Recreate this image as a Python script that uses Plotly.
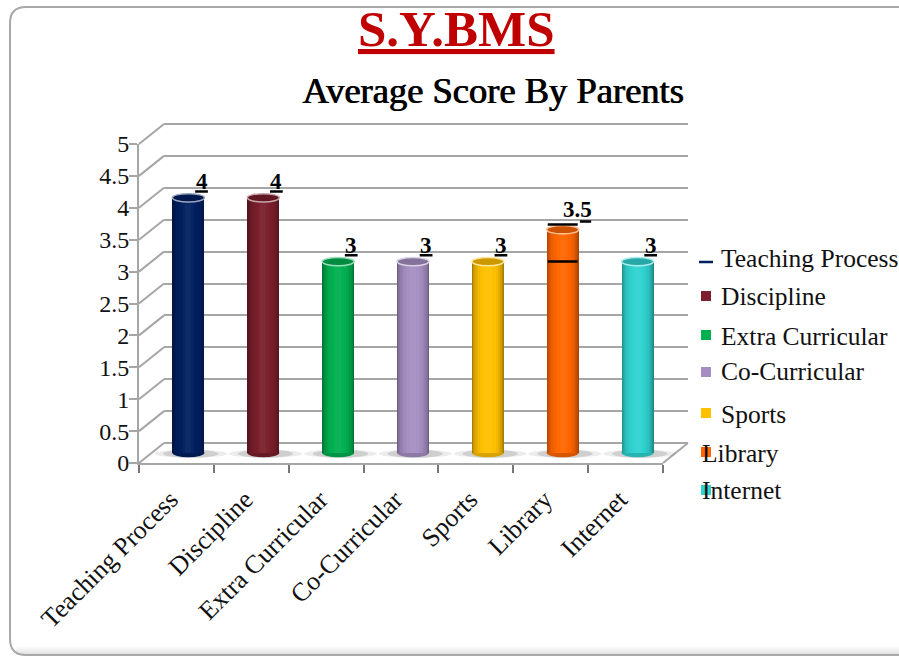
import plotly.graph_objects as go

W, H = 899, 657
FONT = "Liberation Serif"
categories = ["Teaching Process", "Discipline", "Extra Curricular", "Co-Curricular", "Sports", "Library", "Internet"]
scores = [4, 4, 3, 3, 3, 3.5, 3]
score_labels = ["4", "4", "3", "3", "3", "3.5", "3"]
colors = ["#002060", "#7A1F2B", "#00B050", "#A58FC2", "#FFC000", "#FF6600", "#2FD3D0"]
y_ticks = [0, 0.5, 1, 1.5, 2, 2.5, 3, 3.5, 4, 4.5, 5]
legend_y_px = [258, 296, 336, 371, 414, 453, 490]
legend_text_x_px = [719, 719, 719, 719, 719, 700, 700]
legend_key_y_px = [262, 296, 335, 372, 413, 452, 490]


def px_x(v):
    return v / W


def px_y(v):
    return 1 - v / H


def shade(hex_color, f):
    r, g, b = [int(hex_color[i:i + 2], 16) for i in (1, 3, 5)]
    if f <= 1:
        r, g, b = r * f, g * f, b * f
    else:
        t = f - 1
        r, g, b = r + (255 - r) * t, g + (255 - g) * t, b + (255 - b) * t
    return "#%02x%02x%02x" % (int(r), int(g), int(b))


GRID = "#a6a6a6"
fig = go.Figure()

# Back wall subplot (drawn first, carries the gridlines)
fig.add_trace(go.Scatter(x=[0, 1], y=[0, 5], xaxis="x", yaxis="y", mode="none",
                         showlegend=False, hoverinfo="skip"))

# Bars: nested layers give the cylinder shading
layers = [(0.428, 0.66), (0.41, 0.72), (0.39, 0.78), (0.365, 0.83), (0.335, 0.88),
          (0.30, 0.92), (0.26, 0.96), (0.21, 0.99), (0.15, 1.02), (0.08, 1.05)]
for w, f in layers:
    fig.add_trace(go.Bar(x=categories, y=scores, width=w, xaxis="x2", yaxis="y2",
                         marker=dict(color=[shade(c, f) for c in colors], line=dict(width=0)),
                         showlegend=False, hoverinfo="skip"))

shapes = []
annotations = []

# Card
x0, y0, x1, y1, r = 10, 7, 905, 655, 16
card = (f"M {px_x(x0)} {px_y(y0 + r)} Q {px_x(x0)} {px_y(y0)} {px_x(x0 + r)} {px_y(y0)} "
        f"L {px_x(x1)} {px_y(y0)} L {px_x(x1)} {px_y(y1)} L {px_x(x0 + r)} {px_y(y1)} "
        f"Q {px_x(x0)} {px_y(y1)} {px_x(x0)} {px_y(y1 - r)} Z")
for i, col in enumerate(["#f7f7f7", "#f1f1f1", "#eaeaea", "#e2e2e2"]):
    shapes.append(dict(type="rect", xref="paper", yref="paper", layer="below",
                       x0=px_x(16), x1=1, y0=px_y(647 + i * 2), y1=px_y(649 + i * 2),
                       fillcolor=col, line=dict(width=0)))
shapes.append(dict(type="path", path=card, xref="paper", yref="paper", layer="below",
                   line=dict(color="#a9a9a9", width=2)))

# Side wall and floor connectors
for t in y_ticks:
    yy = 463 - t * 63.8
    shapes.append(dict(type="line", xref="paper", yref="paper", layer="below",
                       x0=px_x(139), x1=px_x(164), y0=px_y(yy), y1=px_y(yy - 20),
                       line=dict(color=GRID, width=2)))
shapes.append(dict(type="line", xref="paper", yref="paper", layer="below",
                   x0=px_x(663), x1=px_x(688), y0=px_y(463), y1=px_y(443),
                   line=dict(color=GRID, width=2)))

# Shadows, caps and value labels drawn on the bar axes
for i, (v, c, lab) in enumerate(zip(scores, colors, score_labels)):
    for half_w, op in [(0.46, 0.14), (0.34, 0.25)]:
        shapes.append(dict(type="circle", xref="x2", yref="y2", layer="below",
                           x0=i - half_w, x1=i + half_w + 0.06, y0=-0.075, y1=0.05,
                           fillcolor="#777777", opacity=op, line=dict(width=0)))
    shapes.append(dict(type="circle", xref="x2", yref="y2", layer="below",
                       x0=i - 0.214, x1=i + 0.214, y0=-0.065, y1=0.065,
                       fillcolor=shade(c, 0.85), line=dict(width=0)))
    shapes.append(dict(type="circle", xref="x2", yref="y2", layer="above",
                       x0=i - 0.214, x1=i + 0.214, y0=v - 0.065, y1=v + 0.065,
                       fillcolor=shade(c, 0.8), line=dict(color=shade(c, 1.6), width=1.5)))
    if lab == "3.5":
        marks = [(i - 0.2, i + 0.2, v + 0.08), (i + 0.23, i + 0.38, v + 0.13), (i - 0.2, i + 0.2, 3.0)]
        annotations.append(dict(x=i + 0.2, y=v + 0.13, xref="x2", yref="y2", text=f"<b>{lab}</b>",
                                showarrow=False, yanchor="bottom", yshift=-3,
                                font=dict(family=FONT, size=23, color="black")))
    else:
        marks = [(i + 0.09, i + 0.26, v + 0.1)]
        annotations.append(dict(x=i + 0.175, y=v + 0.08, xref="x2", yref="y2", text=f"<b>{lab}</b>",
                                showarrow=False, yanchor="bottom", yshift=-3,
                                font=dict(family=FONT, size=23, color="black")))
    for a, b, yv in marks:
        shapes.append(dict(type="line", xref="x2", yref="y2", layer="above", x0=a, x1=b, y0=yv, y1=yv,
                           line=dict(color="black", width=2.5)))

# Legend
for i, (name, c) in enumerate(zip(categories, colors)):
    kx, ky = 706, legend_key_y_px[i]
    if i == 0:
        shapes.append(dict(type="line", xref="paper", yref="paper", x0=px_x(699), x1=px_x(713),
                           y0=px_y(ky), y1=px_y(ky), line=dict(color=c, width=2.5)))
    else:
        shapes.append(dict(type="rect", xref="paper", yref="paper", x0=px_x(kx - 5), x1=px_x(kx + 5),
                           y0=px_y(ky - 5), y1=px_y(ky + 5), fillcolor=c, line=dict(width=0)))
    annotations.append(dict(x=px_x(legend_text_x_px[i]), y=px_y(legend_y_px[i]), xref="paper", yref="paper",
                            text=name, showarrow=False, xanchor="left", yanchor="middle",
                            font=dict(family=FONT, size=25.5, color="#111111")))

# Titles
annotations.append(dict(x=px_x(456), y=px_y(29), xref="paper", yref="paper", text="<b>S.Y.BMS</b>",
                        showarrow=False, xanchor="center", yanchor="middle",
                        font=dict(family=FONT, size=51, color="#C00000", lineposition="under")))
annotations.append(dict(x=px_x(493), y=px_y(90), xref="paper", yref="paper", text="Average Score By Parents",
                        showarrow=False, xanchor="center", yanchor="middle",
                        font=dict(family=FONT, size=36.5, color="black", shadow="1px 0 0 #000")))

fig.update_layout(
    width=W, height=H, autosize=False, margin=dict(l=0, r=0, t=0, b=0),
    paper_bgcolor="white", plot_bgcolor="rgba(0,0,0,0)", barmode="overlay", bargap=0,
    shapes=shapes, annotations=annotations, showlegend=False,
    # back wall (range padded so the 0 and 5 gridlines are drawn)
    xaxis=dict(domain=[px_x(164), px_x(688)], range=[0, 1], anchor="y", showticklabels=False,
               showgrid=False, zeroline=False, ticks="", automargin=False),
    yaxis=dict(domain=[px_y(449.38), px_y(117.62)], range=[-0.1, 5.1], anchor="x", tickvals=y_ticks,
               showticklabels=False, showgrid=True, gridcolor=GRID, gridwidth=2, zeroline=False, ticks="",
               automargin=False),
    # mid depth, holds the bars (range padded so the base ellipses are not clipped)
    xaxis2=dict(domain=[px_x(151), px_x(675)], range=[-0.5, 6.5], type="category", anchor="y2", visible=False,
                automargin=False),
    yaxis2=dict(domain=[px_y(465.76), px_y(134)], range=[-0.2, 5], anchor="x2", visible=False, automargin=False),
    # front frame, holds the axes
    xaxis3=dict(domain=[px_x(139), px_x(663)], range=[-0.5, 6.5], type="category", anchor="y3",
                categoryorder="array", categoryarray=categories,
                tickmode="array", tickvals=categories, ticktext=categories,
                tickson="boundaries", ticks="outside", ticklen=8, tickwidth=2, tickcolor="#777777",
                tickangle=-45, tickfont=dict(family=FONT, size=26, color="#111111"),
                ticklabelstandoff=9, ticklabelshift=-6,
                showline=True, linecolor=GRID, linewidth=2, showgrid=False, zeroline=False, automargin=False),
    yaxis3=dict(domain=[px_y(463), px_y(144)], range=[0, 5], anchor="x3", tickvals=y_ticks,
                ticktext=[f"{t:g}" for t in y_ticks], ticks="outside", ticklen=8, tickwidth=2, tickcolor=GRID,
                tickfont=dict(family=FONT, size=24, color="#111111"), ticklabelstandoff=-5,
                showline=True, linecolor=GRID, linewidth=2, showgrid=False, zeroline=False, automargin=False),
)
fig.add_trace(go.Scatter(x=categories, y=scores, xaxis="x3", yaxis="y3", mode="none",
                         showlegend=False, hoverinfo="skip"))

fig.write_html("out.html", config={"displayModeBar": False},
               post_script="document.body.style.margin='0';document.body.style.overflow='hidden';")
